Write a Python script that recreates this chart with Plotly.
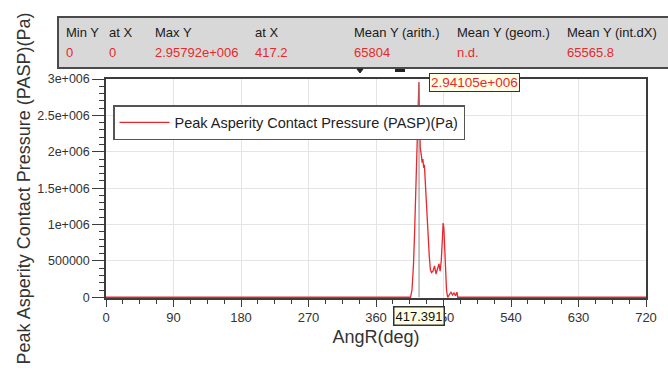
import plotly.graph_objects as go

# ---------------- data ----------------
angle_deg = [0, 406, 408, 410, 411.5, 413, 414, 415.5, 416.5, 417.2, 418, 419, 420.5,
             421.5, 422.5, 423.5, 424.5, 425.5, 427, 428, 429.5, 431, 432.5, 434, 436,
             438, 440, 442, 444, 445.5, 447, 448.5, 449.5, 450.5, 451.5, 452.5, 454,
             455.5, 458, 460, 462, 464, 466, 468, 469, 720]
pasp_mpa = [0, 0, 0.1, 0.45, 0.9, 1.4, 1.85, 2.3, 2.6, 2.958, 2.5, 2.05, 1.95,
            1.85, 1.9, 1.78, 1.82, 1.6, 1.35, 1.2, 0.9, 0.57, 0.38, 0.34, 0.36,
            0.43, 0.32, 0.4, 0.46, 0.36, 0.5, 0.8, 1.02, 0.95, 0.7, 0.35, 0.1,
            0.0, 0.05, 0.07, 0.03, 0.06, 0.02, 0.07, 0, 0]
pasp_pa = [v * 1e6 for v in pasp_mpa]

x_tickvals = [0, 90, 180, 270, 360, 450, 540, 630, 720]
y_tickvals = [0, 500000, 1000000, 1500000, 2000000, 2500000, 3000000]
y_ticktext = ["0", "500000", "1e+006", "1.5e+006", "2e+006", "2.5e+006", "3e+006"]

stats_headers = ["Min Y", "at X", "Max Y", "at X", "Mean Y (arith.)", "Mean Y (geom.)", "Mean Y (int.dX)"]
stats_values = ["0", "0", "2.95792e+006", "417.2", "65804", "n.d.", "65565.8"]
stats_col_px = [64, 107, 153, 253, 352, 455, 565]

cursor_x = 417.391
cursor_y = 2.94105e6

series_name = "Peak Asperity Contact Pressure (PASP)(Pa)"

# ---------------- layout geometry ----------------
W, H = 668, 373
L, R, T, B = 106, 22, 79, 75
PW, PH = W - L - R, H - T - B

def px(xp):
    return (xp - L) / PW

def py(yp):
    return (H - B - yp) / PH

FONT = "Liberation Sans, Arial, sans-serif"
RED = "#e8282d"
AXIS = "#3c3c3c"

fig = go.Figure()
fig.add_trace(go.Scatter(x=angle_deg, y=pasp_pa, mode="lines", name=series_name,
                         line=dict(color=RED, width=1.3), showlegend=True))

shapes = []
# cursor line
shapes.append(dict(type="line", xref="x", yref="y", x0=cursor_x, x1=cursor_x, y0=0, y1=cursor_y,
                   line=dict(color="#8a8a8a", width=1)))
# stats table box
shapes.append(dict(type="rect", xref="paper", yref="paper", x0=px(58), x1=px(672), y0=py(68), y1=py(17),
                   fillcolor="#d8d8d8", line=dict(color="#4a4a4a", width=2), layer="above"))
# little toolbar marks
shapes.append(dict(type="path", xref="paper", yref="paper",
                   path=f"M {px(357)} {py(69)} L {px(363)} {py(69)} L {px(360)} {py(73)} Z",
                   fillcolor="#222", line=dict(color="#222", width=1), layer="above"))
shapes.append(dict(type="rect", xref="paper", yref="paper", x0=px(395), x1=px(405), y0=py(72), y1=py(69),
                   fillcolor="#222", line=dict(color="#222", width=0), layer="above"))

annotations = []
for cx, h, v in zip(stats_col_px, stats_headers, stats_values):
    annotations.append(dict(xref="paper", yref="paper", x=px(cx), y=py(33), text=h, showarrow=False,
                            xanchor="left", yanchor="middle", font=dict(family=FONT, size=13, color="#1a1a1a")))
    annotations.append(dict(xref="paper", yref="paper", x=px(cx), y=py(53), text=v, showarrow=False,
                            xanchor="left", yanchor="middle", font=dict(family=FONT, size=13, color=RED)))
# peak value label
annotations.append(dict(xref="x", yref="y", x=cursor_x, y=cursor_y, text="2.94105e+006", showarrow=False,
                        xanchor="left", yanchor="middle", xshift=10, yshift=1,
                        font=dict(family=FONT, size=13.5, color=RED),
                        bgcolor="#ffffe6", bordercolor="#333", borderwidth=1, borderpad=1))
# cursor x label
annotations.append(dict(xref="x", yref="paper", x=cursor_x, y=py(315.5), text="417.391", showarrow=False,
                        xanchor="center", yanchor="middle",
                        font=dict(family=FONT, size=13, color="#111"),
                        bgcolor="#ffffe6", bordercolor="#333", borderwidth=1.5, borderpad=1))

fig.update_layout(
    width=W, height=H,
    margin=dict(l=L, r=R, t=T, b=B, pad=0),
    paper_bgcolor="white", plot_bgcolor="white",
    font=dict(family=FONT, color="#333"),
    shapes=shapes, annotations=annotations,
    legend=dict(x=px(113), y=py(105), xanchor="left", yanchor="top",
                bgcolor="white", bordercolor="#555", borderwidth=1.5, itemwidth=50,
                font=dict(family=FONT, size=14.5, color="#222")),
    xaxis=dict(range=[0, 720], tickvals=x_tickvals, showgrid=True, gridcolor="#e4e4e4",
               zeroline=False, showline=True, linecolor=AXIS, linewidth=1.5, mirror=True,
               ticks="outside", ticklen=7, tickcolor=AXIS, tickwidth=1.2,
               minor=dict(dtick=22.5, ticks="outside", ticklen=4, tickcolor=AXIS, showgrid=False),
               tickfont=dict(family=FONT, size=13, color="#333"),
               title=dict(text="AngR(deg)", font=dict(family=FONT, size=18, color="#333"), standoff=6)),
    yaxis=dict(range=[-10000, 3000000], tickvals=y_tickvals, ticktext=y_ticktext, showgrid=True,
               gridcolor="#e4e4e4", zeroline=False, showline=True, linecolor=AXIS, linewidth=1.5,
               mirror=True, ticks="outside", ticklen=12, tickcolor=AXIS, tickwidth=1.2,
               minor=dict(dtick=100000, ticks="outside", ticklen=5, tickcolor=AXIS, showgrid=False),
               tickfont=dict(family=FONT, size=12.5, color="#333"),
               title=dict(text=series_name, font=dict(family=FONT, size=18, color="#333"), standoff=2)),
)

fig.write_html("out.html")
